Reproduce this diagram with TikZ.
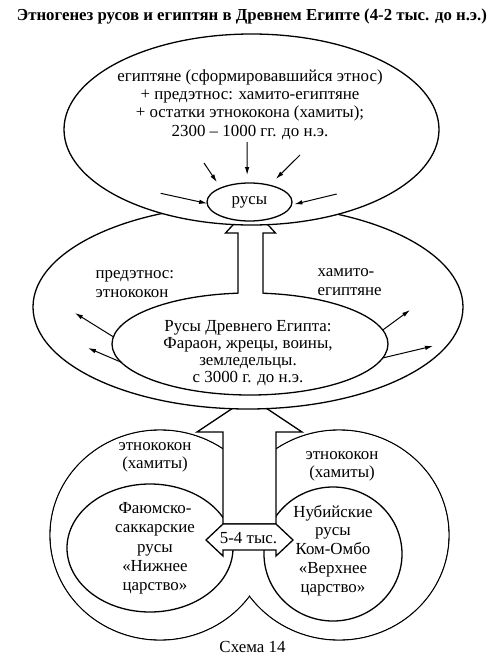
\documentclass[tikz,border=0pt]{standalone}
\usepackage{fontspec}
\setmainfont{Liberation Serif}
\usetikzlibrary{arrows.meta,shapes.geometric}

\begin{document}
\begin{tikzpicture}[x=1pt,y=-1pt,line width=1.3pt,
  every node/.style={font=\fontsize{16.9}{18.3}\selectfont},
  oval/.style={draw,ellipse,fill=white,inner sep=0pt,outer sep=0pt},
  txt/.style={align=center,inner sep=0pt},
  ray/.style={-{Latex[length=8pt,width=4.5pt]},line width=1pt},
  hollow/.style={draw,fill=white,line join=miter}]
\useasboundingbox (0,0) rectangle (500,664);

\node[font=\bfseries\fontsize{16.8}{18}\selectfont] (title) at (252,16) {Этногенез русов и египтян в Древнем Египте (4-2 тыс. до н.э.)};

\node[oval,minimum width=220pt,minimum height=210pt] (kokonL) at (160,535) {};
\node[oval,minimum width=220pt,minimum height=210pt] (kokonR) at (339,535) {};
\fill[white] (kokonL.center) ellipse[x radius=109.3,y radius=104.3];
\fill[white] (kokonR.center) ellipse[x radius=109.3,y radius=104.3];
\node[oval,minimum width=166pt,minimum height=128pt] (fayum) at (150,548) {};
\node[oval,minimum width=138pt,minimum height=134pt] (nubia) at (333,554) {};

\draw[hollow] (223,524) -- (223,432) -- (197,432) -- (249.5,397) -- (302,432) -- (276,432) -- (276,524) -- cycle;
\draw[hollow] (223,524) -- (206,540) -- (223,556) -- (223,550) -- (276,550) -- (276,556) -- (293,540) -- (276,524) -- cycle;

\node[oval,minimum width=430pt,minimum height=204pt] (hamito) at (248,307) {};
\node[oval,minimum width=276pt,minimum height=102pt] (rusyeg) at (250,344) {};
\fill[white] (238,296) -- (238,233) -- (225.5,233) -- (250.5,206) -- (275.5,233) -- (263,233) -- (263,296) -- cycle;
\draw[line join=miter] (238,293.5) -- (238,233) -- (225.5,233) -- (250.5,206) -- (275.5,233) -- (263,233) -- (263,293.5);

\node[oval,minimum width=375pt,minimum height=191pt] (egypt) at (251.5,129.5) {};
\node[oval,minimum width=85pt,minimum height=38pt] (rusy) at (249.5,202) {русы};

\coordinate (a1) at (247,142);
\coordinate (a2) at (204,163);
\coordinate (a3) at (300,155);
\coordinate (a4) at (160.7,193.3);
\coordinate (a5) at (336.7,194);
\draw[ray,shorten >=8pt] (a1) -- (rusy.97);
\draw[ray,shorten >=7pt] (a2) -- (rusy.154);
\draw[ray,shorten >=9pt] (a3) -- (rusy.40);
\draw[ray] (a4) -- (rusy.182);
\draw[ray,shorten >=3pt] (a5) -- (rusy.356);

\coordinate (b1) at (75,313);
\coordinate (b2) at (88,348);
\coordinate (b3) at (410,310);
\coordinate (b4) at (433,346);
\draw[ray] (rusyeg.177) -- (b1);
\draw[ray] (rusyeg.188) -- (b2);
\draw[ray] (rusyeg.6) -- (b3);
\draw[ray] (rusyeg.354) -- (b4);

\node[txt] (egypttxt) at (250,104.5) {египтяне (сформировавшийся этнос)\\+ предэтнос: хамито-египтяне\\+ остатки этнококона (хамиты);\\2300 – 1000 гг. до н.э.};
\node[txt,anchor=west,align=left] (predetnos) at (95,284) {предэтнос:\\этнококон};
\node[txt,anchor=west,align=left] (hamitoeg) at (317,282) {хамито-\\египтяне};
\node[txt,font=\fontsize{16.9}{17}\selectfont] (rusyegtxt) at (248,353) {Русы Древнего Египта:\\Фараон, жрецы, воины,\\земледельцы.\\с 3000 г. до н.э.};
\node[txt] (kokonLtxt) at (155,457.5) {этнококон\\(хамиты)};
\node[txt] (kokonRtxt) at (342,466) {этнококон\\(хамиты)};
\node[txt,font=\fontsize{16.9}{19.2}\selectfont] (fayumtxt) at (155,548.4) {Фаюмско-\\саккарские\\русы\\«Нижнее\\царство»};
\node[txt,font=\fontsize{16.9}{18.8}\selectfont] (nubiatxt) at (333,550.4) {Нубийские\\русы\\Ком-Омбо\\«Верхнее\\царство»};
\node[txt] (years) at (248.5,538) {5-4 тыс.};
\node[txt] (caption) at (252.5,647) {Схема 14};
\end{tikzpicture}
\end{document}
